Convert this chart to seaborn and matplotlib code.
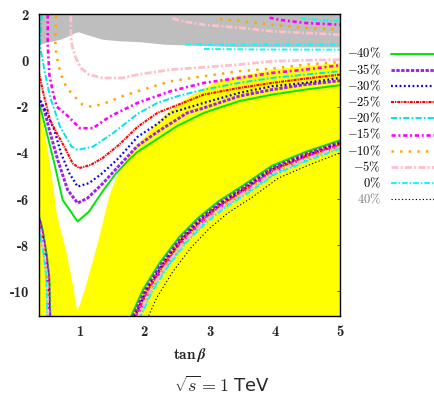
import numpy as np
import pandas as pd
import matplotlib
matplotlib.use("Agg")
import matplotlib.pyplot as plt
from matplotlib.lines import Line2D
import seaborn as sns

# ---------------------------------------------------------------------------
# Contours of the relative deviation in the (tan beta, log-coupling) plane,
# sqrt(s) = 1 TeV.  Each level has several disconnected branches.
# ---------------------------------------------------------------------------

# allowed / excluded regions
WHITE_X = [0.38, 5.0, 5.0, 4.466, 3.957, 3.45, 3.114, 2.657, 2.352, 2.155, 2.017,
           1.771, 1.588, 1.468, 1.392, 1.300, 1.194, 1.087, 1.011, 0.970,
           0.942, 0.889, 0.813, 0.736, 0.660, 0.599, 0.553, 0.492, 0.431, 0.393, 0.38]
WHITE_Y = [2.0, 2.0, -0.10, -0.242, -0.390, -0.675, -0.892, -1.619, -2.264, -2.784, -3.260,
           -4.082, -4.948, -5.814, -6.680, -7.762, -8.844, -9.926, -10.576, -10.835,
           -10.36, -9.493, -8.411, -7.545, -6.680, -5.381, -4.515, -3.434, -2.481, -1.961, -1.87]

GRAY_X = [0.38, 5.0, 5.0, 3.45, 2.84, 2.31, 1.94, 1.61, 1.36, 1.10, 1.0, 0.95, 0.85, 0.72, 0.39, 0.38]
GRAY_Y = [2.0, 2.0, 0.57, 0.58, 0.64, 0.69, 0.80, 0.84, 0.91, 1.13, 1.23, 1.20, 1.06, 0.91, 0.69, 0.69]

# shared ordinates of the left-hand lower branches
LOWLEFT_Y = [-6.723, -7.05, -7.502, -8.411, -9.407, -11.05]

# -40 %
M40_V_X = [0.381, 0.416, 0.492, 0.619, 0.747, 0.976, 1.152, 1.357, 1.559, 1.762, 1.895,
           2.2, 2.505, 2.912, 3.45, 3.957, 4.466, 5.0]
M40_V_Y = [-1.874, -2.134, -3.0, -4.442, -6.03, -6.97, -6.537, -5.671, -4.905, -4.299, -3.952,
           -3.39, -2.827, -2.264, -1.758, -1.472, -1.255, -1.065]
M40_LR_X = [1.8, 1.977, 2.23, 2.535, 2.84, 3.145, 3.526, 3.953, 4.471, 5.0]
M40_LR_Y = [-11.043, -9.931, -8.775, -7.636, -6.771, -6.078, -5.381, -4.558, -3.952, -3.45]
M40_LL_X = [0.381, 0.416, 0.451, 0.503, 0.543, 0.558]

# -35 %
M35_V_X = [0.381, 0.466, 0.543, 0.671, 0.823, 0.976, 1.128, 1.357, 1.61, 1.895, 2.2,
           2.657, 2.912, 3.45, 3.957, 4.466, 5.0]
M35_V_Y = [-1.701, -2.134, -3.0, -4.299, -5.597, -6.173, -5.957, -5.338, -4.558, -3.693, -3.087,
           -2.264, -2.048, -1.541, -1.255, -1.039, -0.866]
M35_LR_X = [1.828, 2.004, 2.255, 2.558, 2.860, 3.163, 3.543, 3.967, 4.482, 5.0]
M35_LR_Y = [-11.079, -9.972, -8.824, -7.693, -6.835, -6.148, -5.453, -4.634, -4.033, -3.532]
M35_LL_X = [0.369, 0.404, 0.439, 0.491, 0.531, 0.546]

# -30 %
M30_V_X = [0.381, 0.492, 0.619, 0.721, 0.848, 0.976, 1.152, 1.357, 1.61, 1.895, 2.2,
           2.402, 2.912, 3.45, 3.957, 4.466, 5.0]
M30_V_Y = [-1.571, -2.225, -3.0, -4.009, -4.874, -5.455, -5.307, -4.874, -4.212, -3.303, -2.74,
           -2.264, -1.831, -1.398, -1.108, -0.965, -0.749]
M30_LR_X = [1.849, 2.024, 2.274, 2.575, 2.876, 3.176, 3.555, 3.978, 4.490, 5.0]
M30_LR_Y = [-11.105, -10.002, -8.861, -7.735, -6.883, -6.201, -5.508, -4.691, -4.094, -3.593]
M30_LL_X = [0.363, 0.398, 0.433, 0.485, 0.525, 0.540]

# -25 %
M25_V_X = [0.381, 0.451, 0.553, 0.63, 0.771, 0.899, 1.0, 1.178, 1.357, 1.61, 1.895,
           2.2, 2.912, 3.45, 3.957, 4.466, 5.0]
M25_V_Y = [-0.50, -1.411, -2.567, -3.0, -3.723, -4.442, -4.658, -4.515, -4.225, -3.649, -2.87,
           -2.264, -1.472, -1.182, -0.965, -0.779, -0.606]
M25_LR_X = [1.862, 2.037, 2.287, 2.587, 2.886, 3.185, 3.564, 3.985, 4.495, 5.0]
M25_LR_Y = [-11.123, -10.023, -8.885, -7.764, -6.915, -6.236, -5.544, -4.730, -4.134, -3.634]
M25_LL_X = [0.357, 0.392, 0.427, 0.479, 0.519, 0.534]

# -20 %
M20_V_X = [0.427, 0.401, 0.477, 0.553, 0.706, 0.884, 0.976, 1.213, 1.518, 1.895, 2.2,
           2.505, 2.912, 3.45, 3.957, 4.466, 5.0]
M20_V_Y = [2.0, 0.606, -0.545, -1.558, -2.857, -3.723, -3.866, -3.723, -3.143, -2.307, -1.831,
           -1.541, -1.255, -0.965, -0.749, -0.606, -0.459]
M20_LR_X = [1.911, 2.084, 2.331, 2.627, 2.922, 3.216, 3.593, 4.010, 4.514, 5.0]
M20_LR_Y = [-11.185, -10.094, -8.971, -7.863, -7.027, -6.359, -5.670, -4.863, -4.276, -3.778]
M20_LL_X = [0.339, 0.374, 0.409, 0.461, 0.501, 0.516]

# -15 %
M15_V_X = [0.518, 0.518, 0.543, 0.595, 0.655, 0.808, 1.011, 1.213, 1.468, 1.895, 2.402,
           2.912, 3.45, 3.957, 4.466, 5.0]
M15_V_Y = [2.0, 0.693, -0.606, -1.325, -1.991, -2.351, -2.926, -2.926, -2.424, -1.831, -1.325,
           -0.965, -0.749, -0.532, -0.39, -0.199]
M15_TOP_X = [3.92, 4.10, 4.466, 5.0]
M15_TOP_Y = [1.86, 1.76, 1.632, 1.558]
M15_LR_X = [1.876, 2.051, 2.299, 2.598, 2.896, 3.194, 3.572, 3.992, 4.500, 5.0]
M15_LR_Y = [-11.141, -10.043, -8.910, -7.792, -6.947, -6.271, -5.580, -4.768, -4.175, -3.675]
M15_LL_X = [0.351, 0.386, 0.421, 0.473, 0.513, 0.528]

# -10 %
M10_V_X = [0.645, 0.634, 0.645, 0.671, 0.721, 0.797, 0.899, 1.052, 1.204, 1.407, 1.662,
           1.895, 2.402, 2.912, 3.45, 3.957, 4.466, 5.0]
M10_V_Y = [1.935, 0.840, 0.407, -0.026, -0.606, -1.108, -1.472, -1.905, -2.004, -1.831, -1.541,
           -1.325, -0.892, -0.675, -0.459, -0.346, -0.173, -0.056]
M10_TOP_X = [3.16, 3.495, 3.957, 4.466, 5.0]
M10_TOP_Y = [1.80, 1.706, 1.558, 1.416, 1.342]
M10_LR_X = [1.890, 2.064, 2.312, 2.610, 2.906, 3.203, 3.581, 4.000, 4.506, 5.0]
M10_LR_Y = [-11.158, -10.063, -8.934, -7.820, -6.979, -6.306, -5.616, -4.806, -4.215, -3.716]
M10_LL_X = [0.347, 0.382, 0.417, 0.469, 0.509, 0.524]

# -5 %
M5_V_X = [0.873, 0.873, 0.873, 0.899, 0.950, 1.026, 1.152, 1.357, 1.662, 1.895, 2.402,
          2.912, 3.45, 3.957, 4.466, 5.0]
M5_V_Y = [1.95, 1.489, 0.983, 0.550, 0.117, -0.316, -0.606, -0.749, -0.749, -0.606, -0.390,
          -0.286, -0.173, -0.026, 0.017, 0.043]
M5_TOP_X = [2.43, 2.60, 2.912, 3.495, 3.957, 4.466, 5.0]
M5_TOP_Y = [1.83, 1.70, 1.558, 1.416, 1.273, 1.199, 1.126]
M5_LR_X = [1.897, 2.071, 2.318, 2.616, 2.912, 3.207, 3.585, 4.003, 4.508, 5.0]
M5_LR_Y = [-11.167, -10.074, -8.946, -7.835, -6.995, -6.323, -5.634, -4.825, -4.235, -3.737]
M5_LL_X = [0.344, 0.379, 0.414, 0.466, 0.506, 0.521]

# 0 %
P0_A_X = [2.627, 3.45, 5.0]
P0_A_Y = [0.701, 0.693, 0.693]
P0_B_X = [2.916, 3.755, 5.0]
P0_B_Y = [0.506, 0.485, 0.476]
P0_TOP_X = [4.40, 4.619, 5.0]
P0_TOP_Y = [1.85, 1.775, 1.706]
P0_LR_X = [1.925, 2.098, 2.343, 2.639, 2.932, 3.225, 3.601, 4.017, 4.519, 5.0]
P0_LR_Y = [-11.203, -10.114, -8.995, -7.891, -7.059, -6.394, -5.706, -4.901, -4.316, -3.819]
P0_LL_X = [0.334, 0.369, 0.404, 0.456, 0.496, 0.511]

# +40 %
P40_LR_X = [2.022, 2.192, 2.431, 2.719, 2.998, 3.279, 3.652, 4.053, 4.543, 5.0]
P40_LR_Y = [-11.327, -10.257, -9.166, -8.090, -7.268, -6.604, -5.923, -5.091, -4.499, -4.003]

LEVEL_LABELS = ["-40%", "-35%", "-30%", "-25%", "-20%", "-15%", "-10%", "-5%", "0%", "40%"]

BRANCHES = {
    "-40%": [(M40_V_X, M40_V_Y), (M40_LR_X, M40_LR_Y), (M40_LL_X, LOWLEFT_Y)],
    "-35%": [(M35_V_X, M35_V_Y), (M35_LR_X, M35_LR_Y), (M35_LL_X, LOWLEFT_Y)],
    "-30%": [(M30_V_X, M30_V_Y), (M30_LR_X, M30_LR_Y), (M30_LL_X, LOWLEFT_Y)],
    "-25%": [(M25_V_X, M25_V_Y), (M25_LR_X, M25_LR_Y), (M25_LL_X, LOWLEFT_Y)],
    "-20%": [(M20_V_X, M20_V_Y), (M20_LR_X, M20_LR_Y), (M20_LL_X, LOWLEFT_Y)],
    "-15%": [(M15_V_X, M15_V_Y), (M15_TOP_X, M15_TOP_Y), (M15_LR_X, M15_LR_Y), (M15_LL_X, LOWLEFT_Y)],
    "-10%": [(M10_V_X, M10_V_Y), (M10_TOP_X, M10_TOP_Y), (M10_LR_X, M10_LR_Y), (M10_LL_X, LOWLEFT_Y)],
    "-5%": [(M5_V_X, M5_V_Y), (M5_TOP_X, M5_TOP_Y), (M5_LR_X, M5_LR_Y), (M5_LL_X, LOWLEFT_Y)],
    "0%": [(P0_A_X, P0_A_Y), (P0_B_X, P0_B_Y), (P0_TOP_X, P0_TOP_Y), (P0_LR_X, P0_LR_Y), (P0_LL_X, LOWLEFT_Y)],
    "40%": [(P40_LR_X, P40_LR_Y)],
}

STYLES = {
    "-40%": dict(color="#00e600", lw=1.4, ls="-"),
    "-35%": dict(color="#a020f0", lw=2.1, ls=(0, (2.4, 1.1))),
    "-30%": dict(color="#0000ff", lw=1.6, ls=(0, (1.3, 1.8))),
    "-25%": dict(color="#ff0000", lw=1.5, ls=(0, (2.2, 0.7, 0.9, 0.7))),
    "-20%": dict(color="#00e5ee", lw=1.4, ls=(0, (4.5, 1.5, 1.3, 1.5))),
    "-15%": dict(color="#ff00ff", lw=1.9, ls=(0, (3.0, 2.0, 1.4, 2.0))),
    "-10%": dict(color="#ffa500", lw=1.8, ls=(0, (1.7, 4.5))),
    "-5%": dict(color="#ffc0cb", lw=2.0, ls=(0, (5.0, 1.6, 1.5, 1.6))),
    "0%": dict(color="#00ffff", lw=1.4, ls=(0, (4.0, 1.5, 1.0, 1.5))),
    "40%": dict(color="#000000", lw=0.8, ls=(0, (0.9, 1.6))),
}

sns.set_style("white")
plt.rcParams.update({
    "mathtext.fontset": "cm",
    "axes.unicode_minus": False,
    "lines.scale_dashes": False,
    "font.family": ["DejaVu Sans"],
})

rows = []
for lvl in LEVEL_LABELS:
    for b, (xs, ys) in enumerate(BRANCHES[lvl]):
        for i, (xv, yv) in enumerate(zip(xs, ys)):
            rows.append({"level": lvl, "branch": b, "order": i, "tanb": xv, "val": yv})
df = pd.DataFrame(rows)

fig = plt.figure(figsize=(4.34, 3.99), dpi=100)
ax = fig.add_axes([0.0892, 0.2088, 0.6942, 0.7549])
ax.set_facecolor("#ffff00")

ax.fill(WHITE_X, WHITE_Y, color="white", lw=0, zorder=1)
ax.fill(GRAY_X, GRAY_Y, color="#bebebe", lw=0, zorder=1.5)

for lvl in LEVEL_LABELS:
    st = STYLES[lvl]
    sub = df[df["level"] == lvl].sort_values(["branch", "order"])
    sns.lineplot(data=sub, x="tanb", y="val", units="branch", estimator=None,
                 sort=False, color=st["color"], linewidth=st["lw"],
                 linestyle=st["ls"], ax=ax, legend=False, zorder=3)

ax.set_xlim(0.38, 5.0)
ax.set_ylim(-11.05, 2.0)
ax.set_xticks([1, 2, 3, 4, 5])
ax.set_yticks([-10, -8, -6, -4, -2, 0, 2])
ax.set_xticklabels(["1", "2", "3", "4", "5"])
ax.set_yticklabels(["-10", "-8", "-6", "-4", "-2", "0", "2"])
ax.tick_params(direction="in", length=2.5, width=0.6, top=True, right=True,
               labelsize=10.5, pad=7, color="#333333")
for lab in ax.get_xticklabels() + ax.get_yticklabels():
    lab.set_fontfamily("cmb10")
for sp in ax.spines.values():
    sp.set_color("black")
    sp.set_linewidth(1.0)
    sp.set_zorder(5)

ax.set_xlabel(r"$\mathbf{tan}\,\boldsymbol{\beta}$", fontsize=11)
ax.set_ylabel("")
ax.xaxis.set_label_coords(0.5, -0.132)
ax.xaxis.label.set_va("center")

# legend column to the right of the frame
y0, step = 1 - 53.5 / 399, 16.2 / 399
for i, lvl in enumerate(LEVEL_LABELS):
    st = STYLES[lvl]
    yy = y0 - i * step
    if lvl == "40%":
        txt, col = r"$40\%$", "#7f7f7f"
    else:
        txt, col = r"$\mathbf{" + lvl.replace("%", r"\%") + "}$", "black"
    fig.text(0.878, yy, txt, ha="right", va="center", fontsize=9, color=col)
    fig.add_artist(Line2D([0.901, 1.0], [yy, yy], transform=fig.transFigure,
                          color=st["color"], lw=st["lw"], ls=st["ls"]))

fig.text(0.5115, 1 - 386 / 399, r"$\sqrt{s} = 1$ TeV", ha="center", va="center", fontsize=13)

fig.savefig("out.png", dpi=100)
